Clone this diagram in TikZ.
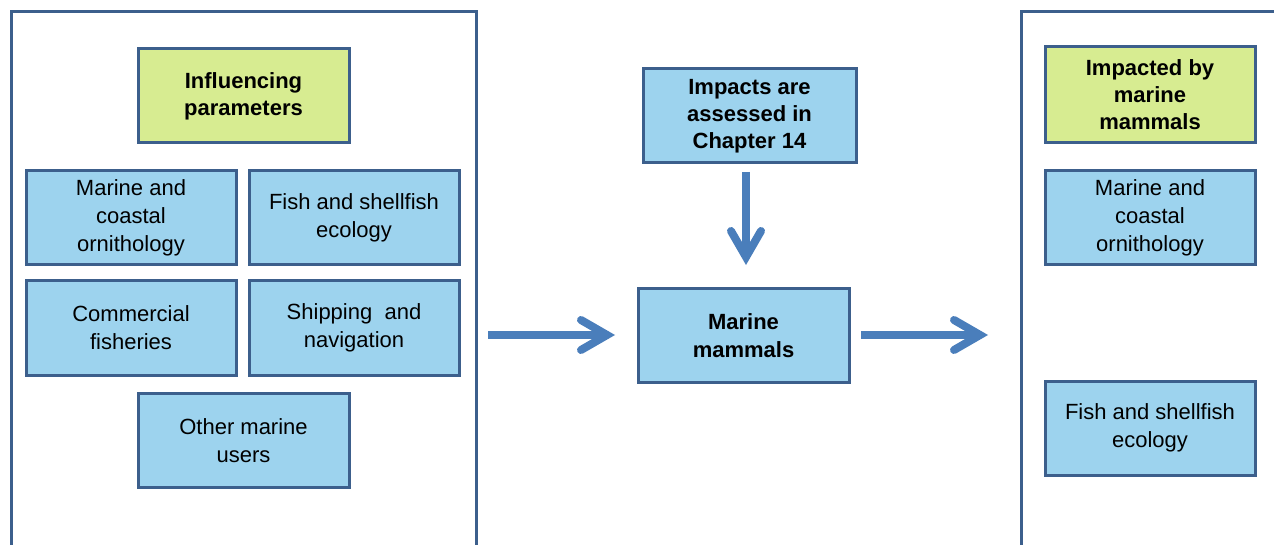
\documentclass[tikz,border=0pt]{standalone}
\usepackage{fontspec}
\setmainfont{Liberation Sans}
\usetikzlibrary{calc}
\definecolor{boxblue}{HTML}{9DD3EE}
\definecolor{boxgreen}{HTML}{D7EC91}
\definecolor{edgeblue}{HTML}{3C5F8C}
\definecolor{arrowblue}{HTML}{4A7EBB}
\begin{document}
\begin{tikzpicture}[x=1pt,y=-1pt,
  basebox/.style={draw=edgeblue,line width=3pt,inner sep=0pt,align=center,
    font=\fontsize{22}{28}\selectfont,minimum width=210pt,minimum height=94pt},
  bluebox/.style={basebox,fill=boxblue},
  greenbox/.style={basebox,fill=boxgreen,font=\fontsize{22}{27}\selectfont\bfseries},
  panel/.style={draw=edgeblue,line width=3pt},
  shaft/.style={draw=arrowblue,line width=8pt},
  chevron/.style={draw=arrowblue,line width=8pt,line cap=round,line join=miter}]
\useasboundingbox (0,0) rectangle (1274,545);
\clip (0,0) rectangle (1274,545);
\fill[white] (0,0) rectangle (1274,545);
% panels
\draw[panel] (11,560) -- (11,12) -- (476,12) -- (476,560);
\draw[panel] (1021,560) -- (1021,12) -- (1300,12);
% left panel
\node[greenbox,minimum width=211pt] (infl) at (243.5,96) {Influencing\\parameters};
\node[bluebox] (mco) at (131,218) {Marine and\\coastal\\ornithology};
\node[bluebox] (fse) at (354,218) {Fish and shellfish\\ecology};
\node[bluebox] (cf) at (131,328) {Commercial\\fisheries};
\node[bluebox] (sn) at (354,328) {Shipping\ \ and\\navigation};
\node[bluebox,minimum width=211pt] (omu) at (243.5,440.5) {Other marine\\users};
% middle
\node[bluebox,minimum width=213pt,font=\fontsize{22}{27}\selectfont\bfseries] (imp) at (749.5,116) {Impacts are\\assessed in\\Chapter 14};
\node[bluebox,minimum width=211pt,minimum height=93pt,font=\fontsize{22}{28}\selectfont\bfseries] (mm) at (743.5,335.5) {Marine\\mammals};
% right panel
\node[greenbox,minimum height=96pt] (ibm) at (1150,95) {Impacted by\\marine\\mammals};
\node[bluebox] (mco2) at (1150,218) {Marine and\\coastal\\ornithology};
\node[bluebox] (fse2) at (1150,428) {Fish and shellfish\\ecology};
% arrows
\coordinate (a1s) at (488,335);
\coordinate (a1v) at (607,335);
\draw[shaft] (a1s) -- (a1v);
\draw[chevron] ($(a1v)+(-26,-15)$) -- (a1v) -- ($(a1v)+(-26,15)$);
\coordinate (a2s) at (861,335);
\coordinate (a2v) at (980,335);
\draw[shaft] (a2s) -- (a2v);
\draw[chevron] ($(a2v)+(-26,-15)$) -- (a2v) -- ($(a2v)+(-26,15)$);
\coordinate (a3s) at (746,172);
\coordinate (a3v) at (746,257);
\draw[shaft] (a3s) -- (a3v);
\draw[chevron] ($(a3v)+(-15,-26)$) -- (a3v) -- ($(a3v)+(15,-26)$);
\end{tikzpicture}
\end{document}
